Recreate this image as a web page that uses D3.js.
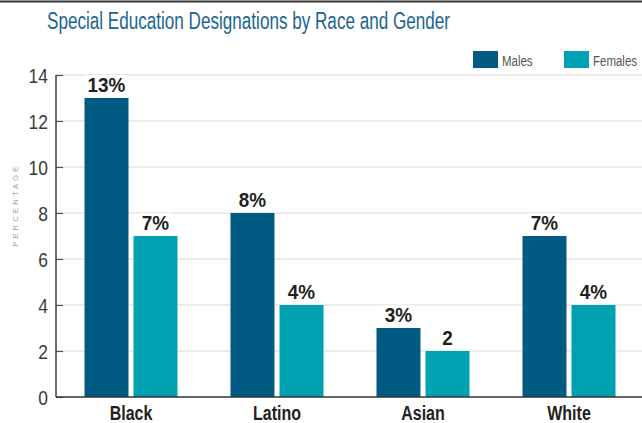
<!DOCTYPE html>
<html><head><meta charset="utf-8">
<script src="https://cdn.jsdelivr.net/npm/d3@7"></script>
<style>
html,body{margin:0;padding:0;background:#fff;}
svg{display:block;font-family:"Liberation Sans",Arial,sans-serif;}
</style></head>
<body>
<svg id="chart" width="642" height="423"></svg>
<script>
const categories = ["Black", "Latino", "Asian", "White"];
const seriesNames = ["Males", "Females"];
const males = [13, 8, 3, 7];
const females = [7, 4, 2, 4];
const maleLabels = ["13%", "8%", "3%", "7%"];
const femaleLabels = ["7%", "4%", "2", "4%"];
const yTicks = [0, 2, 4, 6, 8, 10, 12, 14];
const colors = ["#005a82", "#00a1b0"];

const svg = d3.select("#chart");
const W = 642, H = 423;
const mLeft = 56, mRight = 642, mTop = 75, mBottom = 397;

// condensed text helper
function cText(parent, x, y, sx, str) {
  return parent.append("g").attr("transform", `translate(${x},${y}) scale(${sx},1)`)
    .append("text").text(str);
}

// top rule
svg.append("line").attr("x1", 0).attr("x2", W).attr("y1", 1.5).attr("y2", 1.5)
  .attr("stroke", "#333").attr("stroke-width", 2);

// title
svg.append("text").attr("x", 47).attr("y", 28.5)
  .attr("font-size", 23.5).attr("fill", "#1b6591")
  .attr("textLength", 403).attr("lengthAdjust", "spacingAndGlyphs")
  .text("Special Education Designations by Race and Gender");

const y = d3.scaleLinear().domain([0, 14]).range([mBottom, mTop]);
const x = d3.scaleBand().domain(categories).range([58, mRight])
  .paddingInner(0.363).paddingOuter(0.1815);
const xs = d3.scaleBand().domain(seriesNames).range([0, x.bandwidth()]).paddingInner(0.102);

// gridlines
svg.append("g").selectAll("line").data(yTicks.filter(d => d > 0)).join("line")
  .attr("x1", mLeft).attr("x2", mRight)
  .attr("y1", d => y(d)).attr("y2", d => y(d))
  .attr("stroke", "#d9d9d9").attr("stroke-width", 1.2);

// y axis
const sy = 0.85;
const yAxis = svg.append("g").attr("transform", `translate(${mLeft},0)`)
  .call(d3.axisRight(y).tickValues(yTicks).tickSize(7).tickFormat(d3.format("d")));
yAxis.select(".domain").remove();
yAxis.selectAll(".tick line").attr("stroke", "#555").attr("stroke-width", 1.2);
yAxis.selectAll(".tick text").attr("x", -8 / sy).attr("text-anchor", "end")
  .attr("transform", `scale(${sy},1)`)
  .attr("font-size", 20.5).attr("fill", "#3a3a3a").attr("dy", "0.36em")
  .attr("font-family", "'Liberation Sans', sans-serif");
svg.append("line").attr("x1", mLeft).attr("x2", mLeft).attr("y1", mTop).attr("y2", mBottom)
  .attr("stroke", "#333").attr("stroke-width", 1.4);

// y axis title
svg.append("text").attr("transform", `translate(18,205) rotate(-90)`)
  .attr("text-anchor", "middle").attr("font-size", 7.5).attr("fill", "#a0a0a0")
  .attr("letter-spacing", 3.2).attr("font-family", "'Liberation Sans', sans-serif")
  .text("PERCENTAGE");

// bars
const rows = categories.map((c, i) => [
  {cat: c, s: seriesNames[0], v: males[i], lab: maleLabels[i], col: colors[0]},
  {cat: c, s: seriesNames[1], v: females[i], lab: femaleLabels[i], col: colors[1]}
]).flat();

svg.append("g").selectAll("rect").data(rows).join("rect")
  .attr("x", d => x(d.cat) + xs(d.s)).attr("width", xs.bandwidth())
  .attr("y", d => y(d.v)).attr("height", d => y(0) - y(d.v))
  .attr("fill", d => d.col);

// value labels with white knockout
const labG = svg.append("g");
const ls = 0.9;
rows.forEach(d => {
  const cx = x(d.cat) + xs(d.s) + xs.bandwidth() / 2;
  const by = y(d.v) - 6;
  const t = cText(labG, cx, by, ls, d.lab)
    .attr("text-anchor", "middle").attr("font-size", 21).attr("font-weight", "bold")
    .attr("fill", "#231f20");
  const bb = t.node().getBBox();
  const wpx = bb.width * ls + 4;
  labG.insert("rect", () => t.node().parentNode)
    .attr("x", cx - wpx / 2).attr("width", wpx)
    .attr("y", by - 17).attr("height", 19).attr("fill", "#fff");
});

// baseline
svg.append("line").attr("x1", mLeft).attr("x2", mRight).attr("y1", mBottom).attr("y2", mBottom)
  .attr("stroke", "#333").attr("stroke-width", 1.6);

// x labels
const xg = svg.append("g");
categories.forEach(c => {
  cText(xg, x(c) + x.bandwidth() / 2, 420, 0.8, c)
    .attr("text-anchor", "middle").attr("font-size", 20).attr("font-weight", "bold")
    .attr("fill", "#231f20");
});

// legend
const legX = [473, 564];
const leg = svg.append("g");
seriesNames.forEach((s, i) => {
  leg.append("rect").attr("x", legX[i]).attr("y", 51).attr("width", 25).attr("height", 17)
    .attr("fill", colors[i]);
  cText(leg, legX[i] + 29, 66, 0.82, s).attr("font-size", 14).attr("fill", "#555");
});
</script>
</body></html>
